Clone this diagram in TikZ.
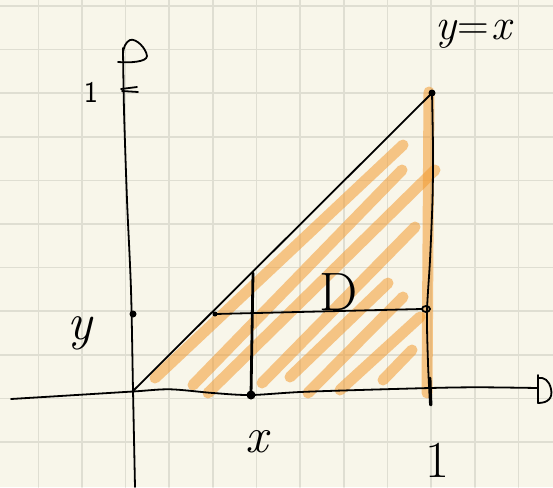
\documentclass[tikz,border=0pt]{standalone}
\usepackage{fontspec}
\definecolor{paper}{RGB}{248,246,234}
\definecolor{gridc}{RGB}{223,222,210}
\definecolor{hlorange}{RGB}{243,155,50}
\begin{document}
\begin{tikzpicture}[x=1pt,y=-1pt,line cap=round,line join=round,
  ink/.style={line width=1.8pt,black},
  thickink/.style={line width=2.8pt,black},
  hl/.style={line width=11pt,color=hlorange,opacity=0.55,line cap=round},
  gridline/.style={line width=1.6pt,gridc},
  lbl/.style={inner sep=0pt,outer sep=0pt}]
\useasboundingbox (0,0) rectangle (553,487);
\fill[paper] (0,0) rectangle (553,487);
% grid
\foreach \k in {0,...,11} \draw[gridline] ({38.3+43.65*\k},0) -- ({38.3+43.65*\k},487);
\foreach \k in {-1,0,...,9} \draw[gridline] (0,{49.5+43.6*\k}) -- (553,{49.5+43.6*\k});
% named points
\coordinate (O) at (133,391);
\coordinate (T) at (432,93);
\coordinate (Xd) at (251,395);
\coordinate (Xtop) at (253,273);
\coordinate (Yd) at (133,314);
\coordinate (Hl) at (215,314);
\coordinate (Hr) at (422,309);
\coordinate (C) at (426,309);
% orange hatching
\draw[hl] (155,378) -- (403,145);
\draw[hl] (193,385) -- (402,170);
\draw[hl] (208,393) -- (435,170);
\draw[hl] (262,383) -- (415,227);
\draw[hl] (290,377) -- (388,283);
\draw[hl] (308,393) -- (403,297);
\draw[hl] (340,390) -- (420,317);
\draw[hl] (383,380) -- (412,350);
\draw[hl] (429,92) -- (427,393);
% axes
\draw[ink] plot[smooth] coordinates {(11,399) (60,396) (133,391.5) (170,389.3) (213,393) (251,395) (307,391.7) (430,388) (480,387.3) (538,388)};
\draw[ink] plot[smooth] coordinates {(123,48) (124,110) (127,200) (131,290) (133,390) (135,487)};
% arrow heads
\draw[ink] (538,375) -- (538,403) .. controls (548,403) and (553,398) .. (551,389) .. controls (549,380) and (544,377) .. (538,378);
\draw[ink] (118,62) .. controls (130,63) and (147,62) .. (147,56) .. controls (146,48) and (136,38) .. (130,40) .. controls (126,42) and (123,47) .. (123,55);
% tick at y=1
\draw[ink] (121,89) -- (137,87);
\draw[ink] (122,91) -- (138,92);
% diagonal y=x
\draw[ink] (O) -- (T);
% x=1 line
\draw[ink] plot[smooth] coordinates {(T) (433,150) (432.5,200) (430,260) (427,312) (428,363) (430,405)};
\draw[thickink] (430,378) -- (431,405);
% vertical line at x
\draw[thickink] (Xtop) -- (Xd);
\fill (Xd) circle (4.5);
% horizontal line at y
\draw[ink] (Hl) -- (Hr);
\draw[ink] (C) ellipse (4 and 3);
\fill (Hl) circle (2.5);
\fill (Yd) circle (3.5);
\fill (T) circle (3.5);
% labels
\node[lbl,anchor=base west] (lyx) at (435,40) {\fontsize{44}{44}\selectfont\itshape y\kern2pt\upshape=\kern2pt\itshape x};
\node[lbl] (ly) at (80,333) {\fontsize{52}{52}\selectfont\itshape y};
\node[lbl] (lx) at (257,442) {\fontsize{50}{50}\selectfont\itshape x};
\node[lbl] (lone) at (437,460) {\fontsize{52}{52}\selectfont 1};
\node[lbl] (lonesmall) at (91,92) {\fontsize{30}{30}\selectfont\sffamily 1};
\node[lbl,anchor=base] (lD) at (339,310) {\fontsize{54}{54}\selectfont D};
\end{tikzpicture}
\end{document}
